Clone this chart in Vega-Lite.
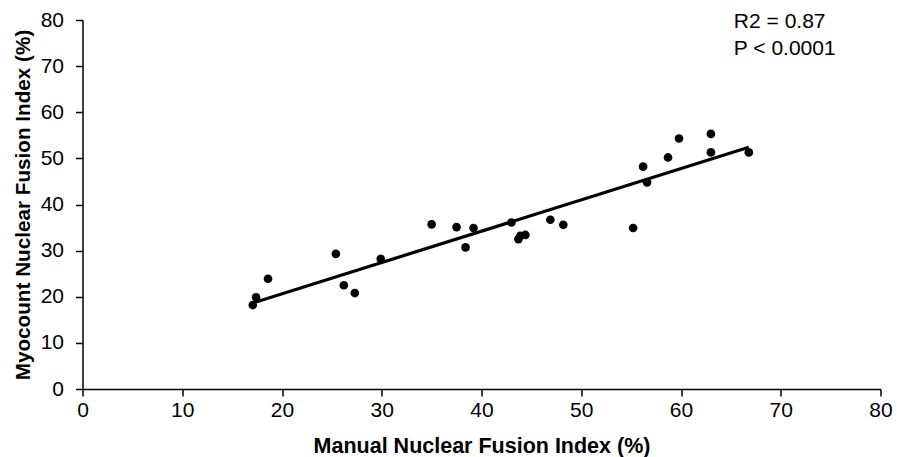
{
  "$schema": "https://vega.github.io/schema/vega-lite/v6.json",
  "width": 798,
  "height": 369,
  "autosize": "none",
  "padding": {"left": 82.5, "top": 20, "right": 16.5, "bottom": 68},
  "background": "white",
  "config": {"view": {"stroke": null}, "font": "Liberation Sans"},
  "data": {"values": [
    {"manual": 17.07, "myocount": 18.2},
    {"manual": 17.4, "myocount": 19.9},
    {"manual": 18.6, "myocount": 23.9},
    {"manual": 25.4, "myocount": 29.3},
    {"manual": 26.2, "myocount": 22.5},
    {"manual": 27.3, "myocount": 20.8},
    {"manual": 29.9, "myocount": 28.2},
    {"manual": 35.0, "myocount": 35.7},
    {"manual": 37.5, "myocount": 35.1},
    {"manual": 38.4, "myocount": 30.7},
    {"manual": 39.2, "myocount": 34.9},
    {"manual": 43.0, "myocount": 36.1},
    {"manual": 43.7, "myocount": 32.5},
    {"manual": 43.9, "myocount": 33.2},
    {"manual": 44.4, "myocount": 33.4},
    {"manual": 46.9, "myocount": 36.7},
    {"manual": 48.2, "myocount": 35.6},
    {"manual": 55.2, "myocount": 34.9},
    {"manual": 56.2, "myocount": 48.2},
    {"manual": 56.6, "myocount": 44.8},
    {"manual": 58.7, "myocount": 50.2},
    {"manual": 59.8, "myocount": 54.3},
    {"manual": 63.0, "myocount": 55.3},
    {"manual": 63.0, "myocount": 51.3},
    {"manual": 66.8, "myocount": 51.3}
  ]},
  "layer": [
    {
      "mark": {"type": "circle", "size": 75, "color": "black", "opacity": 1},
      "encoding": {
        "x": {"field": "manual", "type": "quantitative",
          "scale": {"domain": [0, 80], "nice": false, "zero": true},
          "axis": {
            "title": "Manual Nuclear Fusion Index (%)",
            "values": [0, 10, 20, 30, 40, 50, 60, 70, 80],
            "grid": false,
            "domainColor": "black", "domainWidth": 1.5,
            "tickColor": "black", "tickWidth": 1.5, "tickSize": 7,
            "labelFontSize": 21, "labelColor": "black", "labelPadding": 3,
            "labelFont": "Liberation Sans", "labelFlush": false,
            "titleFontSize": 21.5, "titleFontWeight": "bold", "titleColor": "black",
            "titleFont": "Liberation Sans", "titlePadding": 15
          }
        },
        "y": {"field": "myocount", "type": "quantitative",
          "scale": {"domain": [0, 80], "nice": false, "zero": true},
          "axis": {
            "title": "Myocount Nuclear Fusion Index (%)",
            "values": [0, 10, 20, 30, 40, 50, 60, 70, 80],
            "grid": false,
            "domainColor": "black", "domainWidth": 1.5,
            "tickColor": "black", "tickWidth": 1.5, "tickSize": 7,
            "labelFontSize": 21, "labelColor": "black", "labelPadding": 12,
            "labelFont": "Liberation Sans", "labelFlush": false,
            "titleFontSize": 20.7, "titleFontWeight": "bold", "titleColor": "black",
            "titleFont": "Liberation Sans", "titlePadding": 7
          }
        }
      }
    },
    {
      "transform": [{"regression": "myocount", "on": "manual"}],
      "mark": {"type": "line", "color": "black", "strokeWidth": 3.2},
      "encoding": {
        "x": {"field": "manual", "type": "quantitative"},
        "y": {"field": "myocount", "type": "quantitative"}
      }
    },
    {
      "data": {"values": [{"note": "stats"}]},
      "mark": {"type": "text", "text": ["R2 = 0.87", "P < 0.0001"], "align": "left", "baseline": "top",
        "fontSize": 21, "fontWeight": "normal", "lineHeight": 26.7, "font": "Liberation Sans", "color": "black", "dy": -9},
      "encoding": {
        "x": {"datum": 65.3, "type": "quantitative"},
        "y": {"datum": 80, "type": "quantitative"}
      }
    }
  ]
}
